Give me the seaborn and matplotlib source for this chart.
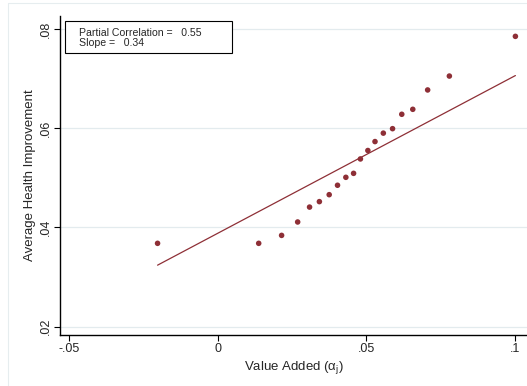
import matplotlib
matplotlib.use("Agg")
import matplotlib.pyplot as plt
import seaborn as sns
import pandas as pd
from matplotlib.patches import Rectangle
from matplotlib.lines import Line2D

# Binned scatter data
value_added = [-0.0202, 0.0138, 0.0215, 0.0269, 0.0309, 0.0342, 0.0375, 0.0403,
               0.0431, 0.0457, 0.0480, 0.0505, 0.0529, 0.0557, 0.0588, 0.0619,
               0.0656, 0.0706, 0.0779, 0.1001]
health_improvement = [0.0368, 0.0368, 0.0384, 0.0411, 0.0441, 0.0452, 0.0466, 0.0485,
                      0.0501, 0.0509, 0.0538, 0.0555, 0.0573, 0.0590, 0.0599, 0.0628,
                      0.0638, 0.0677, 0.0705, 0.0785]
# Fitted line endpoints
fit_x = [-0.0202, 0.1001]
fit_y = [0.0324, 0.0706]

x_ticks = [-0.05, 0, 0.05, 0.1]
x_ticklabels = ["-.05", "0", ".05", ".1"]
y_ticks = [0.02, 0.04, 0.06, 0.08]
y_ticklabels = [".02", ".04", ".06", ".08"]

partial_corr = 0.55
slope = 0.34

sns.set_theme(style="white")
plt.rcParams["font.family"] = ["Liberation Sans", "DejaVu Sans"]
plt.rcParams["mathtext.fontset"] = "custom"
plt.rcParams["mathtext.rm"] = "Liberation Sans"
plt.rcParams["mathtext.it"] = "Liberation Sans"

W, H = 527, 386
fig = plt.figure(figsize=(W / 100, H / 100), dpi=100)
fig.patch.set_facecolor("white")
ax = fig.add_axes([60 / W, (H - 335) / H, (W - 60) / W, (335 - 16) / H])
ax.set_facecolor("white")

color = "#8e2f36"
df = pd.DataFrame({"x": value_added, "y": health_improvement})
fit = pd.DataFrame({"x": fit_x, "y": fit_y})

for yt in y_ticks:
    ax.axhline(yt, color="#e3ebee", lw=0.9, zorder=0)

sns.lineplot(data=fit, x="x", y="y", ax=ax, color=color, lw=0.9, zorder=2)
sns.scatterplot(data=df, x="x", y="y", ax=ax, color=color, s=16, edgecolor="none",
                linewidth=0, zorder=3)

ax.set_xlim(-0.053, 0.104)
ax.set_ylim(0.01833, 0.0826)
ax.set_xticks(x_ticks)
ax.set_xticklabels(x_ticklabels, fontsize=9)
ax.set_yticks(y_ticks)
ax.set_yticklabels(y_ticklabels, fontsize=9, rotation=90, va="center")
ax.tick_params(axis="both", which="both", direction="out", length=4, width=0.8,
               color="black", pad=2, left=True, bottom=True)
for s in ["top", "right"]:
    ax.spines[s].set_visible(False)
for s in ["left", "bottom"]:
    ax.spines[s].set_color("black")
    ax.spines[s].set_linewidth(1.0)

ax.set_xlabel(r"Value Added ($\alpha_j$)", fontsize=9.5, labelpad=3)
ax.set_ylabel("Average Health Improvement", fontsize=9.5, labelpad=3)

# outer frame lines
fig.add_artist(Line2D([8 / W, 8 / W], [0, 1 - 3 / H], transform=fig.transFigure,
                      color="#e6edef", lw=0.8))
fig.add_artist(Line2D([8 / W, 1], [1 - 3 / H, 1 - 3 / H], transform=fig.transFigure,
                      color="#e6edef", lw=0.8))

# text box
fig.add_artist(Rectangle((65 / W, (H - 53) / H), 167 / W, 32 / H, transform=fig.transFigure,
                         facecolor="white", edgecolor="black", lw=0.8, zorder=5))
fig.text(79 / W, 1 - 32.7 / H, f"Partial Correlation =   {partial_corr:.2f}", fontsize=7.6,
         va="center", ha="left", zorder=6)
fig.text(79 / W, 1 - 43.3 / H, f"Slope =   {slope:.2f}", fontsize=7.6,
         va="center", ha="left", zorder=6)

fig.savefig("out.png", dpi=100)
